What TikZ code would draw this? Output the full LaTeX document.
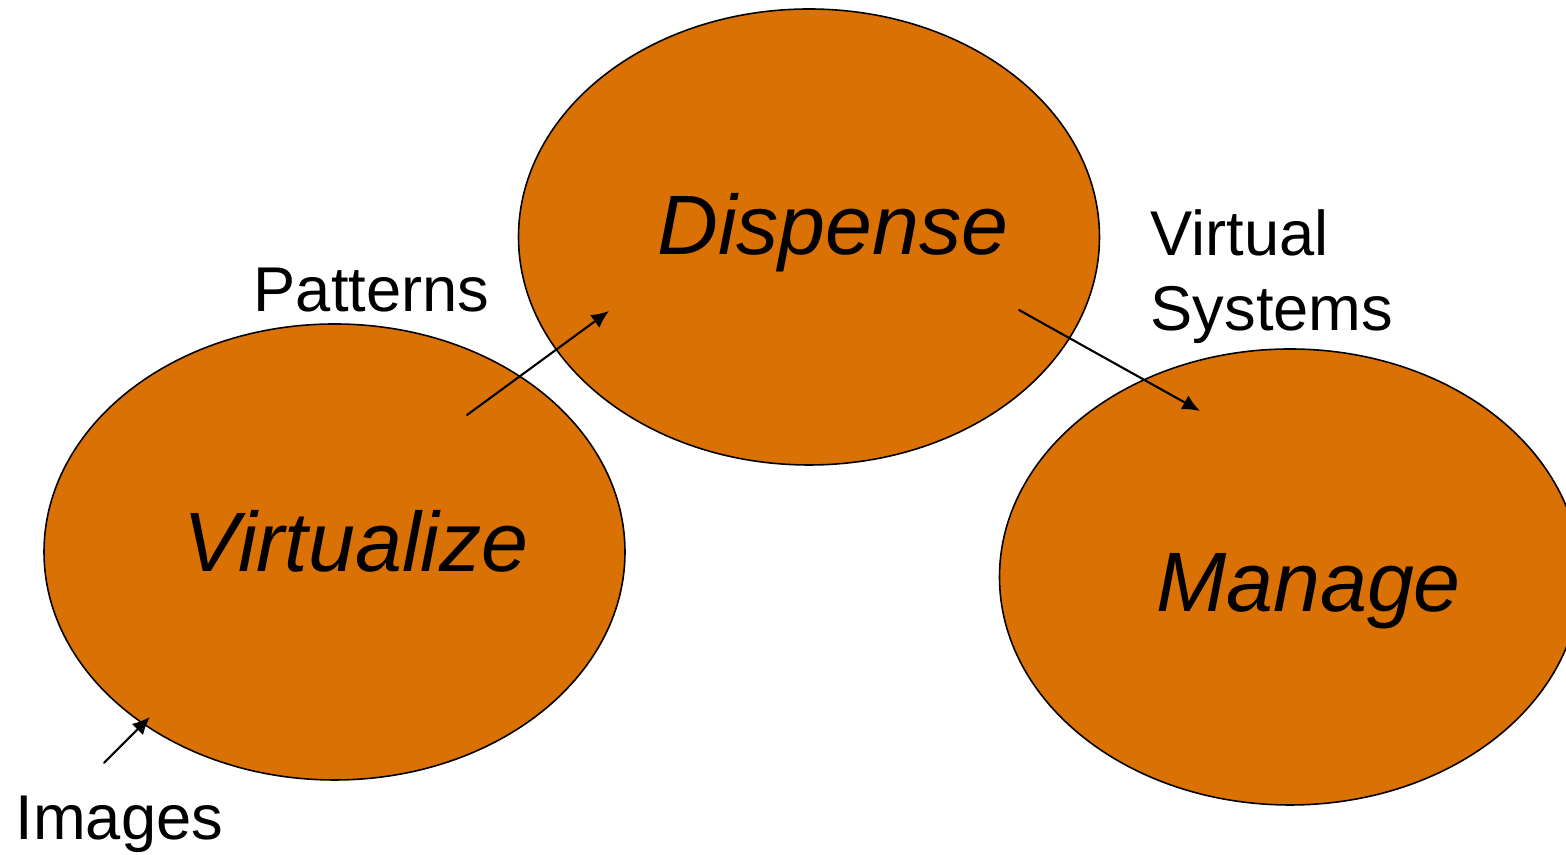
\documentclass[tikz,border=0pt]{standalone}
\usepackage{fontspec}
\setmainfont{Liberation Sans}
\usetikzlibrary{arrows.meta,calc,positioning}
\definecolor{burnt}{RGB}{218,113,4}

\begin{document}
\begin{tikzpicture}[line join=round, line cap=round,
	blob/.style={draw=black,line width=0.45pt,fill=burnt},
	big/.style={font=\fontsize{24}{29}\selectfont\itshape},
	lbl/.style={font=\fontsize{18}{21.6}\selectfont,align=left,inner sep=0pt},
	flow/.style={line width=0.6pt,-{Latex[length=5pt,width=4.5pt]}}]
		\useasboundingbox (0,0) rectangle (15.66,8.55);
		\coordinate (V) at (3.345,3.03);
		\coordinate (D) at (8.09,6.18);
		\coordinate (M) at (12.90,2.78);
		\foreach \c in {V,D,M}{\draw[blob](\c) ellipse (2.905 and 2.28);}
		\node[big,anchor=base] (virt) at (3.56,2.83) {Virtualize};
		\node[big,anchor=base] (disp) at (8.33,6.00) {Dispense};
		\node[big,anchor=base] (mana) at (13.085,2.43) {Manage};
		\node[lbl,anchor=base west] (pat) at (2.53,5.43) {Patterns};
		\node[lbl,anchor=base west] (vs) at (11.50,5.24) {Virtual\\Systems};
		\node[lbl,anchor=base west] (img) at (0.15,0.15) {Images};
		\coordinate (i1) at (1.04,0.92);  \coordinate (i2) at (1.50,1.38);
		\coordinate (p1) at (4.67,4.40);  \coordinate (p2) at (6.09,5.44);
		\coordinate (s1) at (10.19,5.45); \coordinate (s2) at (12.00,4.44);
		\draw[flow](i1)--(i2);
		\draw[flow](p1)--(p2);
		\draw[flow](s1)--(s2);
		\end{tikzpicture}
\end{document}
